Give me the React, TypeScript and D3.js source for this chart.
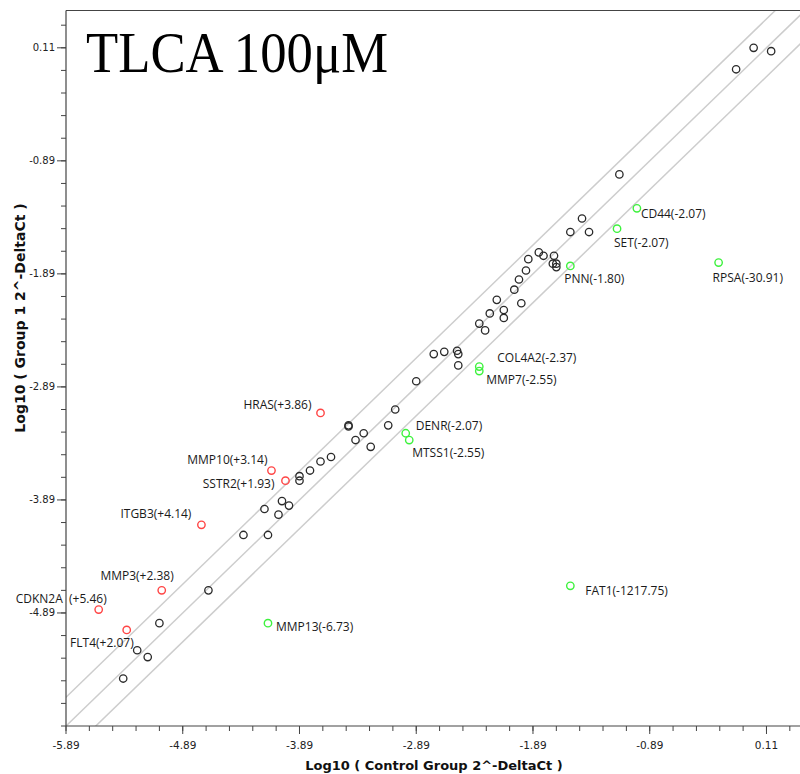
import React from 'react';
import * as d3 from 'd3';

type Pt = [number, number];

const width = 800;
const height = 774;
const marginLeft = 66;
const marginTop = 10.5;
const plotRight = 805;
const plotBottom = 726;

const domainMin = -5.89;
const domainMax = 0.44;
const foldBand = 0.255; // log10 of the fold-change boundary

const xTickLabels = ["-5.89", "-4.89", "-3.89", "-2.89", "-1.89", "-0.89", "0.11"];
const yTickLabels = ["-4.89", "-3.89", "-2.89", "-1.89", "-0.89", "0.11"];

// genes within the boundary (x = control, y = group 1)
const unchanged: Pt[] = [
  [0.00, 0.11], [0.15, 0.08], [-0.15, -0.08], [-1.15, -1.01], [-1.47, -1.40],
  [-1.57, -1.52], [-1.41, -1.52], [-1.84, -1.70], [-1.80, -1.73], [-1.71, -1.73],
  [-1.93, -1.76], [-1.72, -1.80], [-1.69, -1.80], [-1.69, -1.83], [-1.95, -1.86],
  [-2.01, -1.94], [-2.05, -2.03], [-2.20, -2.12], [-1.99, -2.15], [-2.14, -2.21],
  [-2.26, -2.24], [-2.14, -2.28], [-2.35, -2.33], [-2.30, -2.39], [-2.74, -2.60],
  [-2.65, -2.58], [-2.54, -2.57], [-2.53, -2.60], [-2.53, -2.70], [-2.89, -2.84],
  [-3.07, -3.09], [-3.47, -3.23], [-3.47, -3.24], [-3.13, -3.23], [-3.34, -3.30],
  [-3.41, -3.36], [-3.28, -3.42], [-3.62, -3.51], [-3.71, -3.55], [-3.80, -3.63],
  [-3.89, -3.68], [-3.89, -3.72], [-4.04, -3.90], [-3.98, -3.94], [-4.19, -3.97],
  [-4.07, -4.02], [-4.37, -4.20], [-4.16, -4.20], [-4.67, -4.69], [-5.09, -4.98],
  [-5.28, -5.22], [-5.19, -5.28], [-5.40, -5.47],
];

const upNames = ["HRAS", "MMP10", "SSTR2", "ITGB3", "MMP3", "CDKN2A", "FLT4"];
const upFolds = ["+3.86", "+3.14", "+1.93", "+4.14", "+2.38", "+5.46", "+2.07"];
const upPoints: Pt[] = [
  [-3.71, -3.12], [-4.13, -3.63], [-4.01, -3.72], [-4.73, -4.11],
  [-5.07, -4.69], [-5.61, -4.86], [-5.37, -5.04],
];

const downNames = ["CD44", "SET", "PNN", "RPSA", "COL4A2", "MMP7", "DENR", "MTSS1", "MMP13", "FAT1"];
const downFolds = ["-2.07", "-2.07", "-1.80", "-30.91", "-2.37", "-2.55", "-2.07", "-2.55", "-6.73", "-1217.75"];
const downPoints: Pt[] = [
  [-1.00, -1.31], [-1.17, -1.49], [-1.57, -1.82], [-0.30, -1.79], [-2.35, -2.71],
  [-2.35, -2.75], [-2.98, -3.30], [-2.95, -3.36], [-4.16, -4.98], [-1.57, -4.65],
];

// where each label sits relative to its point
const labelPlace: Record<string, {dx: number, dy: number, anchor: string}> = {
  HRAS: {dx: -9, dy: -4, anchor: "end"},
  MMP10: {dx: -4, dy: -7, anchor: "end"},
  SSTR2: {dx: -11, dy: 7, anchor: "end"},
  ITGB3: {dx: -10, dy: -7, anchor: "end"},
  MMP3: {dx: 12, dy: -10, anchor: "end"},
  CDKN2A: {dx: 8, dy: -7, anchor: "end"},
  FLT4: {dx: 7, dy: 17, anchor: "end"},
  CD44: {dx: 4, dy: 10, anchor: "start"},
  SET: {dx: -3, dy: 18, anchor: "start"},
  PNN: {dx: -6, dy: 17, anchor: "start"},
  RPSA: {dx: -6, dy: 19, anchor: "start"},
  COL4A2: {dx: 18, dy: -5, anchor: "start"},
  MMP7: {dx: 7, dy: 13, anchor: "start"},
  DENR: {dx: 10, dy: -3, anchor: "start"},
  MTSS1: {dx: 3, dy: 17, anchor: "start"},
  MMP13: {dx: 8, dy: 8, anchor: "start"},
  FAT1: {dx: 15, dy: 9, anchor: "start"},
};

const upColor = "#ff4545";
const downColor = "#3df23d";
const midColor = "#2a2a2a";
const axisColor = "#444";
const bandColor = "#cdcdcd";

const App: React.FC = () => {
  const xScale = d3.scaleLinear().domain([domainMin, domainMax]).range([marginLeft, plotRight]);
  const yScale = d3.scaleLinear().domain([domainMin, domainMax]).range([plotBottom, marginTop]);

  const minorTicks = d3.range(0, 32).map(i => domainMin + i * 0.2).filter(v => v <= domainMax);

  const diag = (off: number) => {
    const line = d3.line<number>().x(v => xScale(v)).y(v => yScale(v + off));
    return line([domainMin - 1, domainMax + 1]) as string;
  };

  const labelText = (name: string, fold: string) =>
    name === "CDKN2A" ? `${name}\u00a0\u00a0(${fold})` : `${name}(${fold})`;

  const drawLabel = (name: string, fold: string, p: Pt) => {
    const pl = labelPlace[name];
    return (
      <text key={"l" + name} x={xScale(p[0]) + pl.dx} y={yScale(p[1]) + pl.dy} textAnchor={pl.anchor}
        fontFamily="'Open Sans', sans-serif" fontSize={12} fill="#1a1a1a">{labelText(name, fold)}</text>
    );
  };

  return (
    <svg width={width} height={height} style={{position: "absolute", left: 0, top: 0, background: "white"}}>
      <defs>
        <clipPath id="plotClip">
          <rect x={marginLeft} y={marginTop} width={plotRight - marginLeft} height={plotBottom - marginTop}/>
        </clipPath>
      </defs>
      <rect x={0} y={0} width={width} height={height} fill="white"/>

      <g clipPath="url(#plotClip)">
        {[foldBand, 0, -foldBand].map(off => (
          <path key={off} d={diag(off)} stroke={bandColor} strokeWidth={1.5} fill="none"/>
        ))}
      </g>

      <text x={86} y={72} fontFamily="'Liberation Serif', serif" fontSize={58} fill="black"
        textLength={302} lengthAdjust="spacingAndGlyphs">TLCA 100μM</text>

      {unchanged.map((p, i) => (
        <circle key={"u" + i} cx={xScale(p[0])} cy={yScale(p[1])} r={3.7} fill="none" stroke={midColor} strokeWidth={1.3}/>
      ))}
      {upPoints.map((p, i) => (
        <circle key={"r" + i} cx={xScale(p[0])} cy={yScale(p[1])} r={3.7} fill="none" stroke={upColor} strokeWidth={1.4}/>
      ))}
      {downPoints.map((p, i) => (
        <circle key={"g" + i} cx={xScale(p[0])} cy={yScale(p[1])} r={3.7} fill="none" stroke={downColor} strokeWidth={1.4}/>
      ))}
      {upNames.map((n, i) => drawLabel(n, upFolds[i], upPoints[i]))}
      {downNames.map((n, i) => drawLabel(n, downFolds[i], downPoints[i]))}

      {/* frame */}
      <line x1={marginLeft} x2={plotRight} y1={marginTop} y2={marginTop} stroke={axisColor} strokeWidth={1.2}/>
      <line x1={marginLeft} x2={marginLeft} y1={marginTop} y2={plotBottom} stroke={axisColor} strokeWidth={1.2}/>
      <line x1={marginLeft} x2={plotRight} y1={plotBottom} y2={plotBottom} stroke={axisColor} strokeWidth={1.2}/>

      {/* x axis */}
      {minorTicks.map(v => (
        <line key={"xm" + v} x1={xScale(v)} x2={xScale(v)} y1={plotBottom} y2={plotBottom + 5} stroke={axisColor}/>
      ))}
      {xTickLabels.map(t => (
        <g key={"xt" + t} transform={`translate(${xScale(+t)}, ${plotBottom})`}>
          <line y2={8} stroke={axisColor}/>
          <text y={23} textAnchor="middle" fontFamily="'DejaVu Sans', sans-serif" fontSize={10.5} fill="#222">{t}</text>
        </g>
      ))}

      {/* y axis */}
      {minorTicks.map(v => (
        <line key={"ym" + v} x1={marginLeft - 5} x2={marginLeft} y1={yScale(v)} y2={yScale(v)} stroke={axisColor}/>
      ))}
      {yTickLabels.map(t => (
        <g key={"yt" + t} transform={`translate(${marginLeft}, ${yScale(+t)})`}>
          <line x2={-9} stroke={axisColor}/>
          <text x={-11} y={3.5} textAnchor="end" fontFamily="'DejaVu Sans', sans-serif" fontSize={10} fill="#222">{t}</text>
        </g>
      ))}

      <text x={434} y={770} textAnchor="middle" fontFamily="'DejaVu Sans', sans-serif" fontWeight="bold" fontSize={13} fill="#111">
        Log10 ( Control Group 2^-DeltaCt )
      </text>
      <text transform={`translate(25, 318) rotate(-90)`} textAnchor="middle" fontFamily="'DejaVu Sans', sans-serif" fontWeight="bold" fontSize={14} fill="#111">
        Log10 ( Group 1 2^-DeltaCt )
      </text>
    </svg>
  );
};

export default App;
